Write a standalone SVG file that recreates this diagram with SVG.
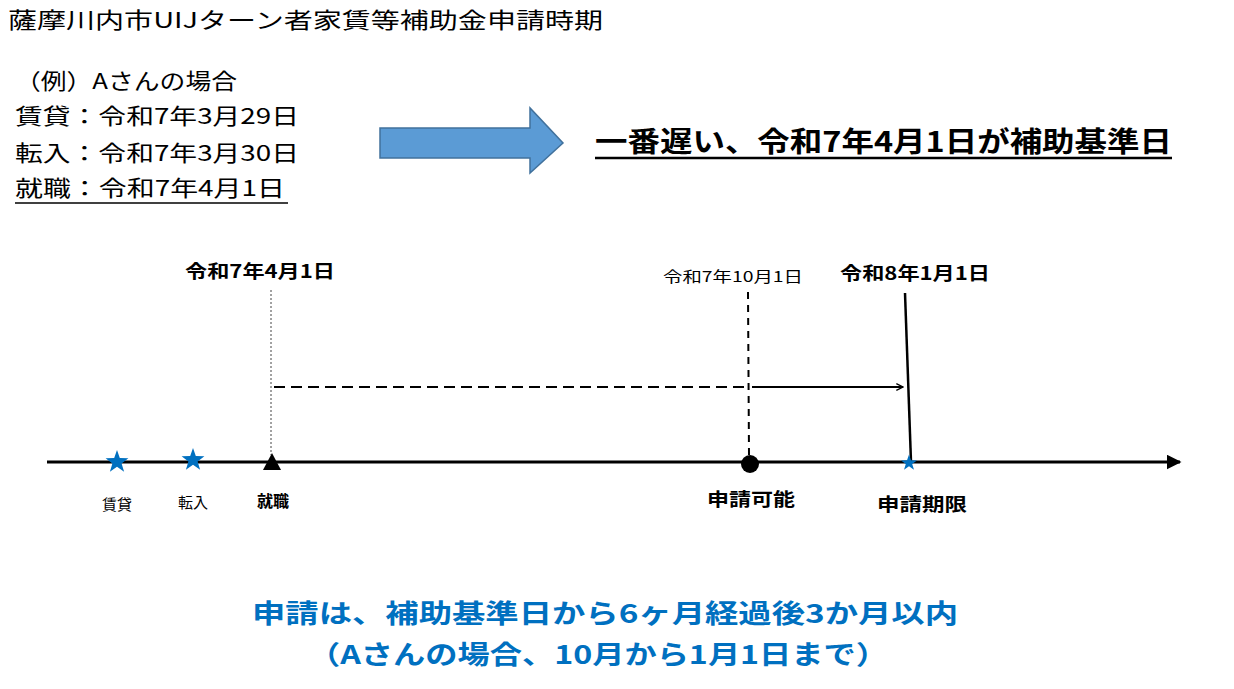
<svg xmlns="http://www.w3.org/2000/svg" width="1234" height="689" viewBox="0 0 1234 689">
<defs>
<style>
text{font-family:"Noto Sans CJK JP","Noto Sans",sans-serif;fill:#000}
.b{font-weight:bold}
.blue{fill:#0070C0;font-weight:bold;font-size:26px}
</style>
<marker id="ah" viewBox="0 0 10 10" refX="9" refY="5" markerWidth="5" markerHeight="5" orient="auto"><path d="M0,0L10,5L0,10z" fill="#000"/></marker>
<marker id="oh" viewBox="0 0 12 12" refX="11" refY="6" markerWidth="8" markerHeight="8" markerUnits="userSpaceOnUse" orient="auto"><path d="M1,1L11,6L1,11" fill="none" stroke="#000" stroke-width="2"/></marker>
<path id="star" d="M0,-12L2.8,-3.9L11.4,-3.7L4.6,1.5L7.1,9.7L0,4.8L-7.1,9.7L-4.6,1.5L-11.4,-3.7L-2.8,-3.9z" fill="#0070C0"/>
</defs>
<rect width="1234" height="689" fill="#fff"/>
<g id="header">
<text x="8" y="28" font-size="22" textLength="595" lengthAdjust="spacingAndGlyphs">薩摩川内市UIJターン者家賃等補助金申請時期</text>
<text x="15" y="89" font-size="22" textLength="222" lengthAdjust="spacingAndGlyphs">（例）Aさんの場合</text>
<text x="15" y="124" font-size="22" textLength="284" lengthAdjust="spacingAndGlyphs">賃貸：令和7年3月29日</text>
<text x="15" y="161" font-size="22" textLength="284" lengthAdjust="spacingAndGlyphs">転入：令和7年3月30日</text>
<text x="15" y="196" font-size="22" textLength="270" lengthAdjust="spacingAndGlyphs">就職：令和7年4月1日</text>
<line x1="15" y1="203" x2="288" y2="203" stroke="#000" stroke-width="1.5"/>
</g>
<g id="bigArrow"><path d="M380,128H530V108L563,143L530,173V158H380Z" fill="#5B9BD5" stroke="#41719C" stroke-width="1.5"/></g>
<g id="result">
<text class="b" x="595" y="152" font-size="28" textLength="577" lengthAdjust="spacingAndGlyphs">一番遅い、令和7年4月1日が補助基準日</text>
<line x1="595" y1="158" x2="1172" y2="158" stroke="#000" stroke-width="2.5"/>
</g>
<g id="connectors" stroke="#000">
<line x1="47" y1="462" x2="1180" y2="462" stroke-width="3" marker-end="url(#ah)"/>
<line x1="271" y1="290" x2="271" y2="455" stroke-width="1" stroke-dasharray="2,2" stroke="#444"/>
<line x1="748" y1="292" x2="749" y2="455" stroke-width="2" stroke-dasharray="7,6"/>
<line x1="905" y1="293" x2="911" y2="462" stroke-width="2.5"/>
<line x1="274" y1="387" x2="746" y2="387" stroke-width="2" stroke-dasharray="11,6"/>
<line x1="752" y1="387" x2="903" y2="387" stroke-width="2" marker-end="url(#oh)"/>
</g>
<g id="n_chintai"><use href="#star" x="117" y="462"/><text x="117" y="510" font-size="15" text-anchor="middle">賃貸</text></g>
<g id="n_tennyu"><use href="#star" x="193" y="460"/><text x="193" y="508" font-size="15" text-anchor="middle">転入</text></g>
<g id="n_shushoku"><path d="M263,470L272,453L281,470Z" fill="#000"/><text class="b" x="273" y="507" font-size="16" text-anchor="middle">就職</text>
<text class="b" x="260" y="278" font-size="18" text-anchor="middle" textLength="150" lengthAdjust="spacingAndGlyphs">令和7年4月1日</text></g>
<g id="n_kano"><circle cx="750" cy="464" r="9" fill="#000"/><text class="b" x="751" y="506" font-size="18" text-anchor="middle" textLength="88" lengthAdjust="spacingAndGlyphs">申請可能</text>
<text x="733" y="282" font-size="15" text-anchor="middle" textLength="140" lengthAdjust="spacingAndGlyphs">令和7年10月1日</text></g>
<g id="n_kigen"><use href="#star" x="909" y="463" transform="translate(909 463) scale(0.7) translate(-909 -463)"/><text class="b" x="922" y="511" font-size="18" text-anchor="middle" textLength="90" lengthAdjust="spacingAndGlyphs">申請期限</text>
<text class="b" x="915" y="280" font-size="18" text-anchor="middle" textLength="150" lengthAdjust="spacingAndGlyphs">令和8年1月1日</text></g>
<g id="note">
<text class="blue" x="605" y="623" text-anchor="middle" textLength="706" lengthAdjust="spacingAndGlyphs">申請は、補助基準日から6ヶ月経過後3か月以内</text>
<text class="blue" x="598" y="664" text-anchor="middle" textLength="580" lengthAdjust="spacingAndGlyphs">（Aさんの場合、10月から1月1日まで）</text>
</g>
</svg>
